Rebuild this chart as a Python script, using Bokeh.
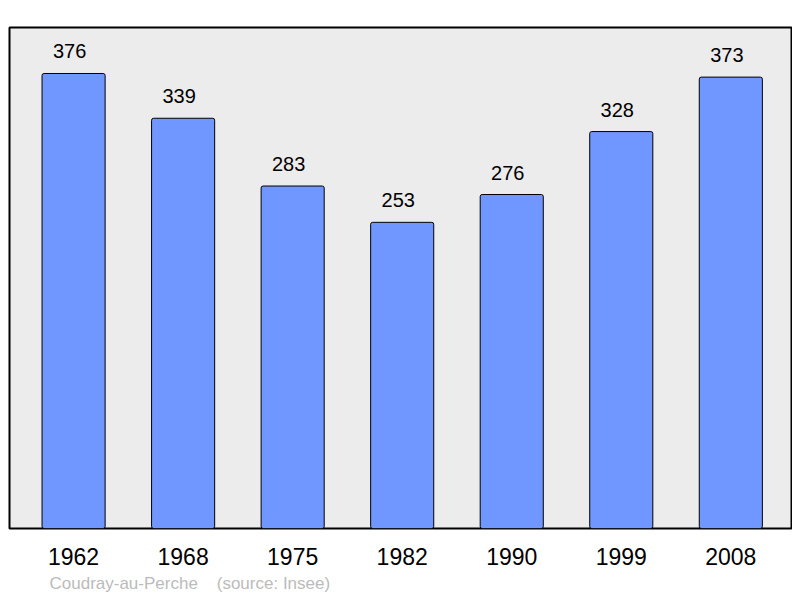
from bokeh.plotting import figure
from bokeh.models import ColumnDataSource, FixedTicker, Title, Range1d
from bokeh.core.properties import value
from bokeh.embed import file_html
from bokeh.resources import INLINE

years = ["1962", "1968", "1975", "1982", "1990", "1999", "2008"]
population = [376, 339, 283, 253, 276, 328, 373]
footer = "Coudray-au-Perche\u00a0\u00a0\u00a0\u00a0(source: Insee)"

idx = list(range(len(years)))
src = ColumnDataSource(dict(x=idx, top=population, label=[str(v) for v in population]))

p = figure(width=792, height=596, output_backend="svg", toolbar_location=None,
           x_range=Range1d(-0.585, 6.554), y_range=Range1d(0, 414),
           min_border_left=9, min_border_right=1, min_border_top=27, min_border_bottom=62)

p.background_fill_color = "#ececec"
p.border_fill_color = "white"
p.outline_line_color = "black"
p.outline_line_width = 2
p.xgrid.visible = False
p.ygrid.visible = False
p.yaxis.visible = False

p.vbar(x="x", top="top", bottom=0, width=0.576, source=src,
       fill_color="#7096ff", line_color="black", line_width=1, border_radius=2)

p.text(x="x", y="top", text="label", source=src, x_offset=-4, y_offset=-22,
       text_align="center", text_baseline="alphabetic",
       text_font=value("Liberation Sans"), text_font_size="20px", text_color="black")

ax = p.xaxis[0]
ax.ticker = FixedTicker(ticks=idx)
ax.major_label_overrides = {i: y for i, y in zip(idx, years)}
ax.axis_line_color = None
ax.major_tick_line_color = None
ax.minor_tick_line_color = None
ax.major_tick_out = 0
ax.major_tick_in = 0
ax.major_label_standoff = 19
ax.major_label_text_font = "Liberation Sans"
ax.major_label_text_font_size = "23px"
ax.major_label_text_color = "black"

t = Title(text=footer, align="left", offset=40, text_font="Liberation Sans",
          text_font_size="17px", text_font_style="normal", text_color="#bbbbbb",
          standoff=8)
p.add_layout(t, "below")

open("out.html", "w").write(file_html(p, INLINE))
